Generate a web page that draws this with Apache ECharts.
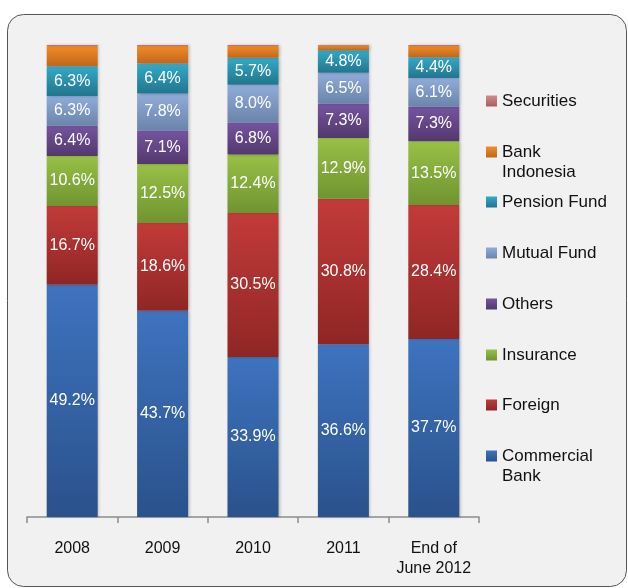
<!DOCTYPE html>
<html>
<head>
<meta charset="utf-8">
<script src="https://cdn.jsdelivr.net/npm/echarts@6/dist/echarts.min.js"></script>
<style>
  html, body { margin: 0; padding: 0; background: #ffffff; }
  #chart { width: 628px; height: 588px; }
</style>
</head>
<body>
<div id="chart"></div>
<script>
// categories and stacked shares (%), bottom to top
var categories = ['2008', '2009', '2010', '2011', 'End of\nJune 2012'];
var commercialBank = [49.2, 43.7, 33.9, 36.6, 37.7];
var foreign = [16.7, 18.6, 30.5, 30.8, 28.4];
var insurance = [10.6, 12.5, 12.4, 12.9, 13.5];
var others = [6.4, 7.1, 6.8, 7.3, 7.3];
var mutualFund = [6.3, 7.8, 8.0, 6.5, 6.1];
var pensionFund = [6.3, 6.4, 5.7, 4.8, 4.4];
var bankIndonesia = [4.3, 3.7, 2.5, 1.0, 2.4];
var securities = [0.2, 0.2, 0.2, 0.1, 0.2];

var font = '"Liberation Sans", Arial, Helvetica, sans-serif';

function grad(top, bottom) {
    return new echarts.graphic.LinearGradient(0, 0, 0, 1, [
        { offset: 0, color: top },
        { offset: 1, color: bottom }
    ]);
}

function makeSeries(name, data, top, bottom, showLabel) {
    return {
        name: name,
        type: 'bar',
        stack: 'total',
        barWidth: 51,
        data: data,
        itemStyle: {
            color: grad(top, bottom),
            shadowColor: 'rgba(0,0,0,0.25)',
            shadowBlur: 3,
            shadowOffsetX: 1.5
        },
        label: {
            show: showLabel,
            position: 'inside',
            color: '#ffffff',
            fontSize: 16,
            fontFamily: font,
            formatter: function (p) { return p.value.toFixed(1) + '%'; }
        }
    };
}

var series = [
    makeSeries('Commercial Bank', commercialBank, '#3e73bf', '#2a528b', true),
    makeSeries('Foreign', foreign, '#c23b3a', '#8f2624', true),
    makeSeries('Insurance', insurance, '#99c046', '#6f9431', true),
    makeSeries('Others', others, '#75549f', '#53386e', true),
    makeSeries('Mutual Fund', mutualFund, '#90acd9', '#6b84ab', true),
    makeSeries('Pension Fund', pensionFund, '#33aac8', '#22758d', true),
    makeSeries('Bank Indonesia', bankIndonesia, '#f28c27', '#c1661b', false),
    makeSeries('Securities', securities, '#d4898c', '#b05a5e', false)
];

// legend rows, top to bottom, with the y of the first text line
var legendNames = ['Securities', 'Bank Indonesia', 'Pension Fund', 'Mutual Fund', 'Others', 'Insurance', 'Foreign', 'Commercial Bank'];
var legendLabels = ['Securities', 'Bank\nIndonesia', 'Pension Fund', 'Mutual Fund', 'Others', 'Insurance', 'Foreign', 'Commercial\nBank'];
var legendY = [101, 152, 202, 253, 304, 355, 405, 456];

var legends = legendNames.map(function (n, i) {
    var twoLines = legendLabels[i].indexOf('\n') >= 0;
    return {
        orient: 'vertical',
        left: 486,
        top: twoLines ? legendY[i] - 30 : legendY[i] - 10,
        padding: 0,
        itemWidth: 11,
        itemHeight: 11,
        icon: 'rect',
        selectedMode: false,
        data: [n],
        // a leading empty line keeps the icon level with the first text line
        formatter: function () { return twoLines ? '\n' + legendLabels[i] : legendLabels[i]; },
        textStyle: {
            color: '#111111',
            fontSize: 17,
            lineHeight: 20,
            fontFamily: font
        }
    };
});

var chart = echarts.init(document.getElementById('chart'));
chart.setOption({
    animation: false,
    backgroundColor: '#ffffff',
    graphic: [{
        type: 'rect',
        z: -100,
        shape: { x: 7.5, y: 14.5, width: 619, height: 572, r: 16 },
        style: { fill: '#f1f1f1', stroke: '#555555', lineWidth: 1 }
    }],
    legend: legends,
    grid: { left: 27, right: 149, top: 45, bottom: 71 },
    xAxis: {
        type: 'category',
        data: categories,
        axisLine: { lineStyle: { color: '#8c8c8c', width: 1.5 } },
        axisTick: { show: true, length: 6, lineStyle: { color: '#8c8c8c', width: 1.5 } },
        axisLabel: {
            color: '#111111',
            fontSize: 16,
            lineHeight: 20,
            margin: 22,
            fontFamily: font,
            interval: 0
        }
    },
    yAxis: {
        type: 'value',
        min: 0,
        max: 100,
        show: false
    },
    series: series
});
</script>
</body>
</html>
